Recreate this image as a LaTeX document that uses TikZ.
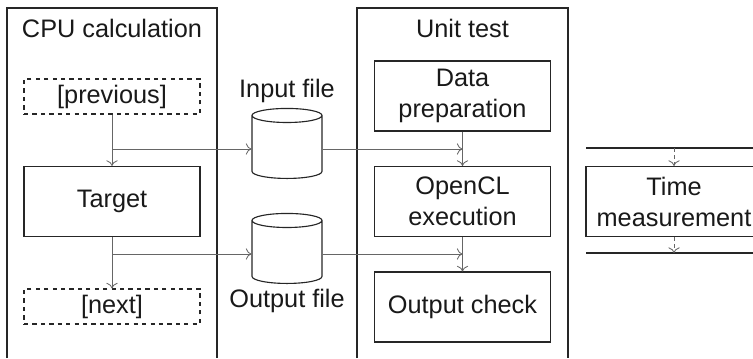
\documentclass[tikz,border=0pt]{standalone}
\usepackage{fontspec}
\setmainfont{Liberation Sans}
\usetikzlibrary{shapes.geometric,arrows.meta}
\tikzset{
    frame/.style={draw=black!85, line width=0.8pt},
    stage/.style={frame, minimum width=4.4cm, minimum height=1.75cm, align=center, inner sep=2pt},
    placeholder/.style={stage, dashed, minimum height=0.875cm},
    datafile/.style={frame, cylinder, shape border rotate=90, aspect=1.5, minimum width=1.75cm, minimum height=1.75cm},
    flow/.style={draw=black!60, line width=0.6pt, -{To[length=4pt,width=8pt]}},
}

\begin{document}
\begin{tikzpicture}[font=\fontsize{18}{22}\selectfont, text=black!90]
    \clip (0,0) rectangle (18.825,8.95);

    % CPU calculation
    \draw[frame] (0.175,0) -- (0.175,8.75) -- (5.425,8.75) -- (5.425,0);
    \node (cpu) at (2.8,8.25) {CPU calculation};
    \node[placeholder] (prev) at (2.8,6.5375) {[previous]};
    \node[stage] (target) at (2.8,3.9125) {Target};
    \node[placeholder] (next) at (2.8,1.2875) {[next]};

    % files
    \node[datafile, label=above:Input file] (infile) at (7.175,5.225) {};
    \node[datafile, label=below:Output file] (outfile) at (7.175,2.6) {};

    % Unit test
    \draw[frame] (8.925,0) -- (8.925,8.75) -- (14.2,8.75) -- (14.2,0);
    \node (unit) at (11.5625,8.25) {Unit test};
    \node[stage] (prep) at (11.5625,6.55) {Data\\preparation};
    \node[stage] (exec) at (11.5625,3.9125) {OpenCL\\execution};
    \node[stage] (check) at (11.5625,1.275) {Output check};

    \draw[flow] (prev) -- (target);
    \draw[flow] (target) -- (next);
    \draw[flow] (prev.south |- infile.west) -- (infile.west);
    \draw[flow] (target.south |- outfile.west) -- (outfile.west);
    \draw[flow] (infile.east) -- (prep.south |- infile.east);
    \draw[flow] (outfile.east) -- (exec.south |- outfile.east);
    \draw[flow] (prep) -- (exec);
    \draw[flow] (exec) -- (check);

    % Time measurement
    \coordinate (tstart) at (14.65,5.25);
    \coordinate (tstop) at (14.65,2.625);
    \draw[frame] (tstart) -- ++(4.3,0);
    \draw[frame] (tstop) -- ++(4.3,0);
    \node[stage] (time) at (16.85,3.9125) {Time\\measurement};
    \draw[flow, densely dashed] (time.north |- tstart) -- (time.north);
    \draw[flow, densely dashed] (time.south) -- (time.south |- tstop);
\end{tikzpicture}
\end{document}
